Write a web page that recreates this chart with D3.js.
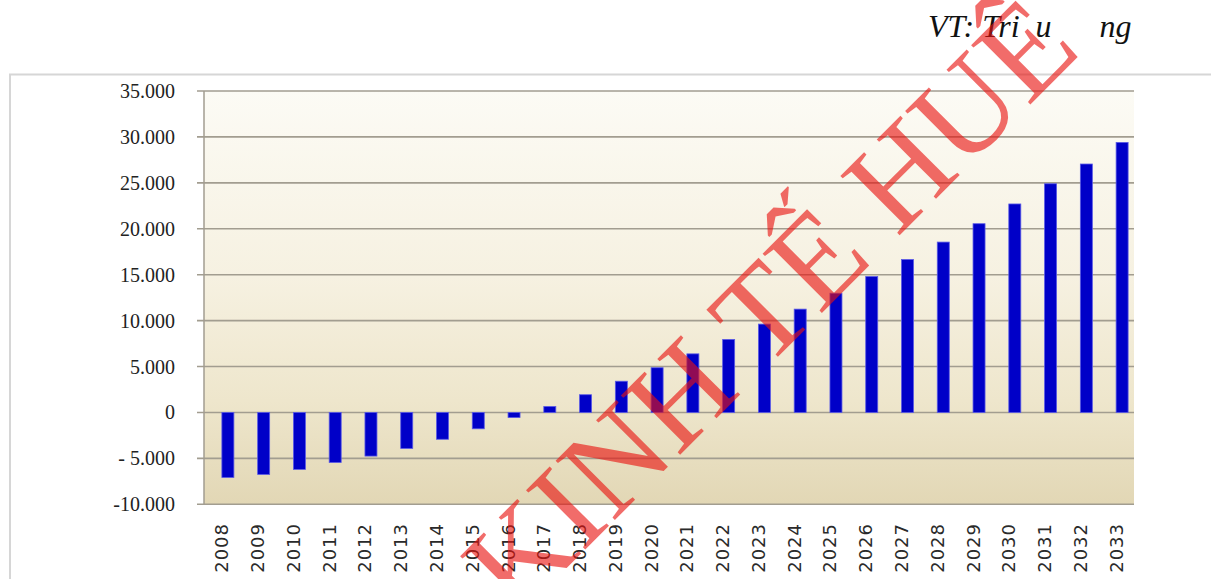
<!DOCTYPE html>
<html>
<head>
<meta charset="utf-8">
<script src="https://cdn.jsdelivr.net/npm/d3@7"></script>
<style>
  html, body { margin: 0; padding: 0; background: #ffffff; }
  svg { display: block; }
  .serif { font-family: "Liberation Serif", "DejaVu Serif", serif; }
  .sans { font-family: "DejaVu Sans", "Liberation Sans", sans-serif; }
</style>
</head>
<body>
<svg id="chart" width="1211" height="579"></svg>
<script>
const categories = ["2008","2009","2010","2011","2012","2013","2014","2015","2016","2017","2018","2019","2020",
  "2021","2022","2023","2024","2025","2026","2027","2028","2029","2030","2031","2032","2033"];
const values = [-7080,-6750,-6200,-5450,-4750,-3920,-2920,-1780,-560,650,1930,3400,4870,
  6380,7950,9620,11250,12980,14800,16650,18550,20550,22700,24900,27050,29400];
const yTicks = [-10000,-5000,0,5000,10000,15000,20000,25000,30000,35000];
const yTickLabels = ["-10.000","- 5.000","0","5.000","10.000","15.000","20.000","25.000","30.000","35.000"];
const unitLabel = "VT: Tri  u      ng";
const watermark = "KINH TẾ HUẾ";

const svg = d3.select("#chart");
const plot = { left: 204, right: 1134, top: 91, bottom: 504.3 };

const x = d3.scaleBand().domain(categories).range([plot.left, plot.right]).paddingInner(0).paddingOuter(0);
const y = d3.scaleLinear().domain([-10000, 35000]).range([plot.bottom, plot.top]);

// outer chart border (top and left visible)
svg.append("path")
  .attr("d", "M10,590 L10,74.5 L1215,74.5")
  .attr("fill", "none").attr("stroke", "#d6d6d6").attr("stroke-width", 2);

// background gradient
const defs = svg.append("defs");
const grad = defs.append("linearGradient").attr("id", "bg").attr("x1", 0).attr("y1", 0).attr("x2", 0).attr("y2", 1);
grad.append("stop").attr("offset", "0%").attr("stop-color", "#fcfbf5");
grad.append("stop").attr("offset", "45%").attr("stop-color", "#f6f1e1");
grad.append("stop").attr("offset", "75%").attr("stop-color", "#eee6cc");
grad.append("stop").attr("offset", "100%").attr("stop-color", "#e2d7b5");

svg.append("rect")
  .attr("x", plot.left).attr("y", plot.top)
  .attr("width", plot.right - plot.left).attr("height", plot.bottom - plot.top)
  .attr("fill", "url(#bg)");

// gridlines
svg.append("g").selectAll("line").data(yTicks).join("line")
  .attr("x1", plot.left - 7).attr("x2", plot.right)
  .attr("y1", d => y(d)).attr("y2", d => y(d))
  .attr("stroke", "#a29d90").attr("stroke-width", 1.6);

// y axis line
svg.append("line")
  .attr("x1", plot.left).attr("x2", plot.left)
  .attr("y1", plot.top).attr("y2", plot.bottom)
  .attr("stroke", "#a29d90").attr("stroke-width", 1.5);

// y tick labels
svg.append("g").selectAll("text").data(yTicks).join("text")
  .attr("class", "serif")
  .attr("x", 175).attr("y", d => y(d))
  .attr("dy", "0.35em")
  .attr("text-anchor", "end")
  .style("white-space", "pre")
  .style("font-size", "20px")
  .attr("fill", "#222")
  .text((d, i) => yTickLabels[i]);

// bars
const barW = 12, barShift = 6;
svg.append("g").selectAll("rect").data(categories).join("rect")
  .attr("x", d => x(d) + x.bandwidth() / 2 + barShift - barW / 2)
  .attr("width", barW)
  .attr("y", (d, i) => y(Math.max(0, values[i])))
  .attr("height", (d, i) => Math.abs(y(values[i]) - y(0)))
  .attr("fill", "#0000c8")
  .attr("stroke", "#5a5ae6").attr("stroke-width", 0.8);

// x labels
svg.append("g").selectAll("text").data(categories).join("text")
  .attr("class", "sans")
  .attr("transform", d => `translate(${x(d) + x.bandwidth() / 2},523) rotate(-90)`)
  .attr("dy", "0.36em")
  .attr("text-anchor", "end")
  .style("font-size", "18px")
  .style("letter-spacing", "1px")
  .attr("fill", "#2a2a2a")
  .text(d => d);

// unit label
svg.append("text")
  .attr("class", "serif")
  .attr("x", 928).attr("y", 37)
  .style("white-space", "pre")
  .style("font-style", "italic")
  .style("font-size", "32px")
  .attr("fill", "#111")
  .text(unitLabel);

// watermark
svg.append("text")
  .attr("class", "serif")
  .attr("transform", "translate(770,305) rotate(-45)")
  .attr("text-anchor", "middle")
  .attr("dy", "0.33em")
  .style("font-size", "128px")
  .attr("fill", "#e8120f")
  .attr("fill-opacity", 0.62)
  .text(watermark);
</script>
</body>
</html>
